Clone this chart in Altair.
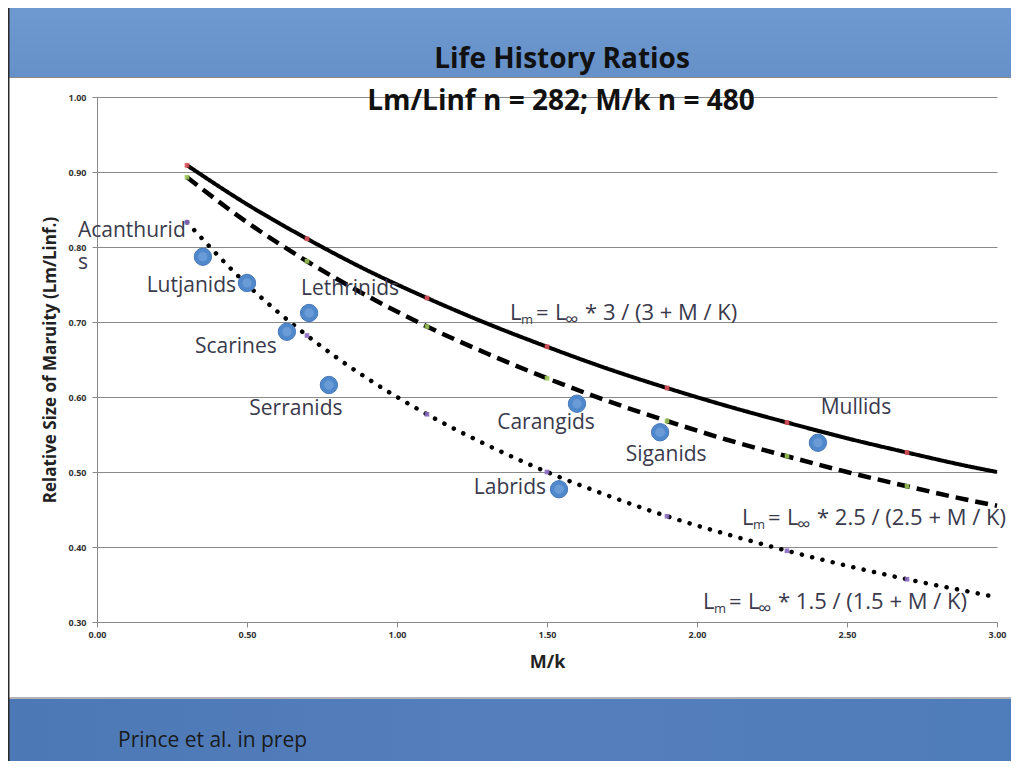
import altair as alt
import pandas as pd

# ---------------- data ----------------
curve_mk = [0.3, 0.5, 0.7, 0.9, 1.1, 1.3, 1.5, 1.7, 1.9, 2.1, 2.3, 2.5, 2.7, 2.9, 3.0]
curve_a3 = [0.909, 0.857, 0.811, 0.769, 0.732, 0.698, 0.667, 0.638, 0.612, 0.588, 0.566, 0.545, 0.526, 0.508, 0.500]
curve_a25 = [0.893, 0.833, 0.781, 0.735, 0.694, 0.658, 0.625, 0.595, 0.568, 0.543, 0.521, 0.500, 0.481, 0.463, 0.455]
curve_a15 = [0.833, 0.750, 0.682, 0.625, 0.577, 0.536, 0.500, 0.469, 0.441, 0.417, 0.395, 0.375, 0.357, 0.341, 0.333]
marker_idx = [0, 2, 4, 6, 8, 10, 12]  # small coloured markers at M/k = 0.3, 0.7, ... 2.7

species = ["Acanthurids", "Lutjanids", "Lethrinids", "Scarines", "Serranids",
           "Carangids", "Siganids", "Labrids", "Mullids"]
species_mk = [0.353, 0.500, 0.707, 0.633, 0.773, 1.600, 1.877, 1.540, 2.403]
species_lm = [0.787, 0.752, 0.712, 0.687, 0.616, 0.591, 0.553, 0.477, 0.539]

x_ticks = [0.0, 0.5, 1.0, 1.5, 2.0, 2.5, 3.0]
y_ticks = [0.3, 0.4, 0.5, 0.6, 0.7, 0.8, 0.9, 1.0]

title_text = "Life History Ratios"
subtitle_text = "Lm/Linf n = 282; M/k n = 480"
footer_text = "Prince et al. in prep"
x_title = "M/k"
y_title = "Relative Size of Maruity (Lm/Linf.)"

eq_rest = ["* 3 / (3 + M / K)", "* 2.5 / (2.5 + M / K)", "* 1.5 / (1.5 + M / K)"]
eq_anchor_mk = [1.377, 2.150, 2.020]
eq_anchor_lm = [0.712, 0.439, 0.327]

# ---------------- layout / style ----------------
W, H = 900, 525
FONT = "Open Sans"
TXT = "#3a3a4c"
GRID = "#8a8a8a"

x_axis = alt.Axis(values=x_ticks, format=".2f", title=x_title, grid=False,
                  domainColor=GRID, tickColor=GRID, tickSize=5, labelFlush=False,
                  labelFont=FONT, labelFontWeight="bold", labelFontSize=9,
                  labelColor="#333333", labelPadding=3,
                  titleFont=FONT, titleFontWeight="bold", titleFontSize=18,
                  titleColor="#222222", titlePadding=14)
y_axis = alt.Axis(values=y_ticks, format=".2f", title=y_title, grid=True, labelFlush=False,
                  gridColor=GRID, gridWidth=1, domainColor=GRID, tickColor=GRID,
                  tickSize=5, labelFont=FONT, labelFontWeight="bold",
                  labelFontSize=9, labelColor="#333333", labelPadding=6,
                  titleFont=FONT, titleFontWeight="bold", titleFontSize=17,
                  titleColor="#222222", titlePadding=8)
x_enc = alt.X("mk:Q", scale=alt.Scale(domain=[0, 3], nice=False, zero=False), axis=x_axis)
y_enc = alt.Y("lm:Q", scale=alt.Scale(domain=[0.3, 1.0], nice=False, zero=False), axis=y_axis)

one = pd.DataFrame({"k": [0]})

header = alt.Chart(one).mark_rect(
    color=alt.LinearGradient(gradient="linear", x1=0, y1=0, x2=0, y2=1,
                             stops=[alt.GradientStop(color="#6d99d0", offset=0),
                                    alt.GradientStop(color="#6590c8", offset=1)])
).encode(x=alt.value(-89), x2=alt.value(W + 14), y=alt.value(-89), y2=alt.value(-20))

footer = alt.Chart(one).mark_rect(
    color=alt.LinearGradient(gradient="linear", x1=0, y1=0, x2=1, y2=0,
                             stops=[alt.GradientStop(color="#4c78b6", offset=0),
                                    alt.GradientStop(color="#557fbc", offset=0.5),
                                    alt.GradientStop(color="#4f7cba", offset=1)])
).encode(x=alt.value(-89), x2=alt.value(W + 14), y=alt.value(602), y2=alt.value(H + 139))

sep = alt.Chart(one).mark_rule(color="#9a9a9a", strokeWidth=1.5).encode(
    x=alt.value(-89), x2=alt.value(W + 14), y=alt.value(601))
hdr_line = alt.Chart(one).mark_rule(color="#8a8a8a", strokeWidth=1).encode(
    x=alt.value(-89), x2=alt.value(W + 14), y=alt.value(-19.5))
left_border = alt.Chart(one).mark_rule(color="#2a2a2a", strokeWidth=3).encode(
    x=alt.value(-89), y=alt.value(-89), y2=alt.value(H + 139))

title = alt.Chart(one).mark_text(text=title_text, font=FONT, fontWeight="bold", fontSize=28,
                                 color="#111111").encode(x=alt.value(465), y=alt.value(-37))
subtitle = alt.Chart(one).mark_text(text=subtitle_text, font=FONT, fontWeight="bold",
                                    fontSize=28, color="#111111").encode(
    x=alt.value(464), y=alt.value(5))
foot = alt.Chart(one).mark_text(text=footer_text, font=FONT, fontSize=21, align="left",
                                color="#1a1a1a").encode(x=alt.value(21), y=alt.value(644))


def curve_layer(vals, dash, width, cap="butt"):
    df = pd.DataFrame({"mk": curve_mk, "lm": vals})
    return alt.Chart(df).mark_line(color="black", strokeWidth=width, strokeDash=dash,
                                   strokeCap=cap, interpolate="monotone").encode(x=x_enc, y=y_enc)


line3 = curve_layer(curve_a3, [1, 0], 4)
line25 = curve_layer(curve_a25, [13, 7], 4.5)
line15 = curve_layer(curve_a15, [0.1, 10.5], 4.5, "round")

mk_rows = []
for vals, colr in [(curve_a3, "#e0505a"), (curve_a25, "#9bc45a"), (curve_a15, "#8a6ac0")]:
    for i in marker_idx:
        mk_rows.append({"mk": curve_mk[i], "lm": vals[i], "c": colr})
markers = alt.Chart(pd.DataFrame(mk_rows)).mark_square(size=22, opacity=0.9).encode(
    x=x_enc, y=y_enc, color=alt.Color("c:N", scale=None))

pts_df = pd.DataFrame({"mk": species_mk, "lm": species_lm, "name": species})
points = alt.Chart(pts_df).mark_circle(size=300, opacity=1, color="#5088cc",
                                       stroke="#4677b8", strokeWidth=1).encode(x=x_enc, y=y_enc)
highlights = alt.Chart(pts_df).mark_circle(size=90, opacity=0.3, color="#a8c8ee").encode(
    x=x_enc, y=y_enc)

# label placement (pixels relative to each circle)
label_layout = {
    "Acanthurids": [("Acanthurid", "left", -125, -26), ("s", "left", -125, 6)],
    "Lutjanids": [("Lutjanids", "right", -11, 3)],
    "Lethrinids": [("Lethrinids", "center", 41, -24)],
    "Scarines": [("Scarines", "center", -51, 15)],
    "Serranids": [("Serranids", "center", -33, 24)],
    "Carangids": [("Carangids", "center", -31, 19)],
    "Siganids": [("Siganids", "center", 6, 23)],
    "Labrids": [("Labrids", "right", -13, -1)],
    "Mullids": [("Mullids", "center", 38, -35)],
}
labels = []
for n, mkv, lmv in zip(species, species_mk, species_lm):
    for txt, al, dx, dy in label_layout[n]:
        labels.append(alt.Chart(pd.DataFrame({"mk": [mkv], "lm": [lmv]})).mark_text(
            text=txt, align=al, dx=dx, dy=dy, font=FONT, fontSize=21, color=TXT
        ).encode(x=x_enc, y=y_enc))

eq_layers = []
for rest, ax, ay in zip(eq_rest, eq_anchor_mk, eq_anchor_lm):
    d = pd.DataFrame({"mk": [ax], "lm": [ay]})
    for txt, dx, dy, fs in [("L", 0, 0, 22), ("m", 11, 7, 13), ("=", 26, 0, 22),
                            ("L", 45, 0, 22), ("\u221e", 55, 7, 19), (rest, 75, 0, 22)]:
        eq_layers.append(alt.Chart(d).mark_text(text=txt, align="left", dx=dx, dy=dy,
                                                font=FONT, fontSize=fs, color=TXT).encode(
            x=x_enc, y=y_enc))

chart = alt.layer(
    header, footer, sep, hdr_line, left_border,
    line3, line25, line15, markers, points, highlights,
    *labels, *eq_layers, title, subtitle, foot
).properties(
    width=W, height=H,
    autosize=alt.AutoSizeParams(type="none"),
    padding={"left": 89, "top": 89, "right": 14, "bottom": 139},
    background="white"
).configure_view(stroke=None)

chart.save("out.html", embed_options={"renderer": "svg", "actions": False})
